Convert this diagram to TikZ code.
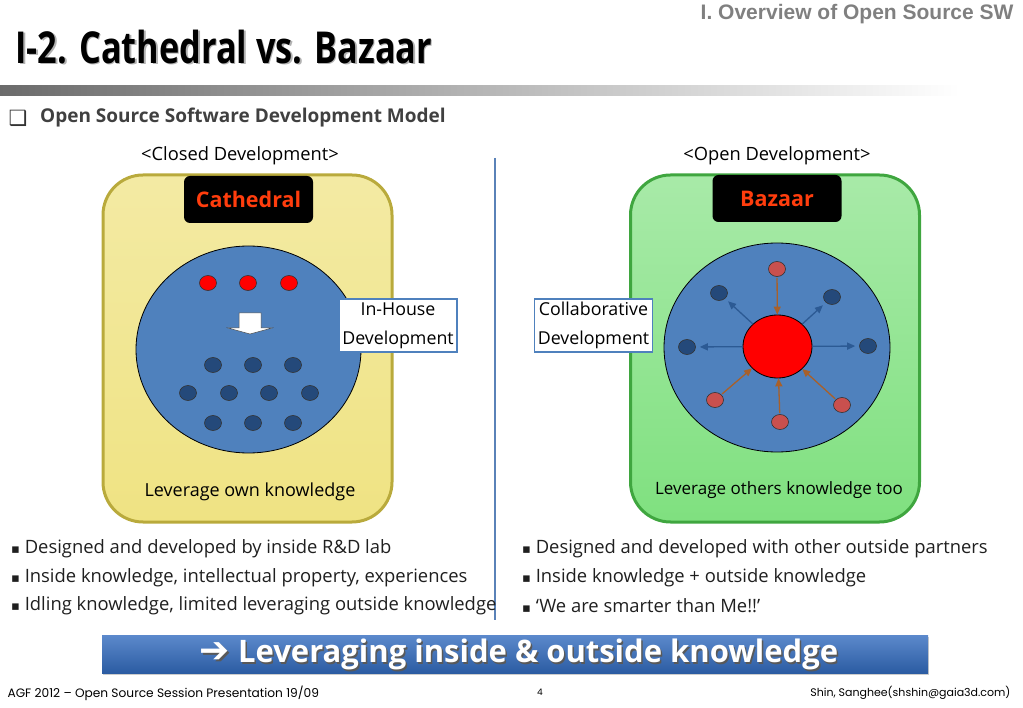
\documentclass[tikz,border=0pt]{standalone}
\usepackage{fontspec}
\setmainfont{Open Sans}
\newfontfamily\titlefont[FakeStretch=0.78]{Open Sans}
\newfontfamily\symfont{DejaVu Sans}
\newfontfamily\partfont{Liberation Sans}
\newfontfamily\footfont{Poppins}
\usetikzlibrary{shapes,arrows.meta,positioning,calc,shadows}

\definecolor{ringblue}{HTML}{4F81BD}
\definecolor{dotnavy}{HTML}{24497A}
\definecolor{dotrose}{HTML}{C9504E}
\definecolor{tagred}{HTML}{FF3D0D}
\definecolor{paneyellow}{HTML}{EDDF72}
\definecolor{paneyellowline}{HTML}{B9AA3C}
\definecolor{panegreen}{HTML}{6EDC6E}
\definecolor{panegreenline}{HTML}{3FA63F}
\definecolor{arrowblue}{HTML}{2C5A94}
\definecolor{arrowbrown}{HTML}{A8602A}
\definecolor{divider}{HTML}{5A82B8}
\definecolor{bannerblue}{HTML}{336CBF}

\begin{document}
\begin{tikzpicture}[
    x=1pt, y=-1pt,
    pane/.style={rounded corners=40, line width=3pt, minimum width=289, minimum height=347},
    tag/.style={fill=black, rounded corners=6, text=tagred, font=\bfseries\fontsize{21.5}{24}\selectfont, minimum width=129, minimum height=47},
    ring/.style={ellipse, draw=black, fill=ringblue, line width=0.8pt, inner sep=0},
    pip/.style={ellipse, draw=black!80, line width=0.6pt, minimum width=17, minimum height=15, inner sep=0},
    note/.style={draw=ringblue, fill=white, line width=1.5pt, align=center, font=\fontsize{17.8}{29}\selectfont, minimum width=118, minimum height=53, inner sep=0},
    item/.style={anchor=west, font=\fontsize{18.4}{20}\selectfont, text=black!88, inner sep=0},
    outflow/.style={-{Triangle[length=8,width=7]}, draw=arrowblue, line width=1.3pt},
    inflow/.style={-{Triangle[length=8,width=7]}, draw=arrowbrown, line width=1.3pt}
]
    \useasboundingbox (0,0) rectangle (1023,708);

    \node[anchor=east, font=\partfont\bfseries\fontsize{21}{24}\selectfont, text=black!50] (part) at (1017,14) {I. Overview of Open Source SW};
    \node[anchor=west, font=\titlefont\bfseries\fontsize{44}{48}\selectfont, text=black!30] at (13.5,48.5) {I-2. Cathedral vs. Bazaar};
    \node[anchor=west, font=\titlefont\bfseries\fontsize{44}{48}\selectfont] (title) at (12,47) {I-2. Cathedral vs. Bazaar};
    \shade[left color=black!58, right color=white] (0,86) rectangle (960,96);

    \node[font=\symfont\fontsize{21}{21}\selectfont, text=black!80, inner sep=0] (box) at (18,118) {❑};
    \node[anchor=west, font=\bfseries\fontsize{19}{22}\selectfont, text=black!75, inner sep=0] (model) at (40,118) {Open Source Software Development Model};

    \node[font=\fontsize{18.3}{20}\selectfont] (closed) at (240,156) {<Closed Development>};
    \node[font=\fontsize{18.3}{20}\selectfont] (open) at (777,156) {<Open Development>};
    \draw[divider, line width=2pt] (495,158) -- (495,620);

    \node[pane, draw=paneyellowline, top color=paneyellow!65!white, middle color=paneyellow, bottom color=paneyellow!88!white] (cathedral) at (247.5,348.5) {};
    \node[tag] (ctag) at (248.5,199.5) {Cathedral};
    \node[ring, minimum width=225, minimum height=207] (cring) at (248.5,349.5) {};
    \foreach \x in {208,248,289}
        \node[pip, fill=red] at (\x,283) {};
    \draw[fill=white, draw=black!70, line width=0.5pt] (239,313) -- (261,313) -- (261,328) -- (272,328) -- (250,334) -- (228,328) -- (239,328) -- cycle;
    \foreach \x in {213,253,293} {
        \node[pip, fill=dotnavy] at (\x,365) {};
        \node[pip, fill=dotnavy] at (\x,423) {};
    }
    \foreach \x in {188,229,269,310}
        \node[pip, fill=dotnavy] at (\x,393) {};
    \node[note] (inhouse) at (398,325.5) {In-House\\Development};
    \node[font=\fontsize{18}{20}\selectfont] (own) at (250,492) {Leverage own knowledge};

    \node[pane, draw=panegreenline, top color=panegreen!60!white, middle color=panegreen, bottom color=panegreen!88!white] (bazaar) at (775,348.5) {};
    \node[tag] (btag) at (777,198.5) {Bazaar};
    \node[ring, minimum width=226, minimum height=209] (bring) at (777,347.5) {};
    \node[ellipse, draw=black, fill=red, line width=0.8pt, minimum width=69, minimum height=63, inner sep=0] (hub) at (777.5,346.5) {};
    \node[pip, fill=dotrose] (n) at (777,269) {};
    \node[pip, fill=dotnavy] (nw) at (719,293) {};
    \node[pip, fill=dotnavy] (ne) at (832,297) {};
    \node[pip, fill=dotnavy] (w) at (687,347) {};
    \node[pip, fill=dotnavy] (e) at (868,346) {};
    \node[pip, fill=dotrose] (sw) at (715,400) {};
    \node[pip, fill=dotrose] (s) at (780,422) {};
    \node[pip, fill=dotrose] (se) at (842,405) {};
    \foreach \t in {nw,ne,w,e}
        \draw[outflow, shorten >=4pt] (hub) -- (\t);
    \foreach \t in {n,sw,s,se}
        \draw[inflow, shorten <=1pt] (\t) -- (hub);
    \node[note] (collab) at (593.5,325.5) {Collaborative\\Development};
    \node[font=\fontsize{17}{20}\selectfont] (others) at (779,490) {Leverage others knowledge too};

    \node[item] (c1) at (11,549) {{\symfont\fontsize{13}{13}\selectfont ▪} Designed and developed by inside R\&D lab};
    \node[item] (c2) at (11,578) {{\symfont\fontsize{13}{13}\selectfont ▪} Inside knowledge, intellectual property, experiences};
    \node[item] (c3) at (11,606) {{\symfont\fontsize{13}{13}\selectfont ▪} Idling knowledge, limited leveraging outside knowledge};
    \node[item] (b1) at (522,549) {{\symfont\fontsize{13}{13}\selectfont ▪} Designed and developed with other outside partners};
    \node[item] (b2) at (522,578) {{\symfont\fontsize{13}{13}\selectfont ▪} Inside knowledge + outside knowledge};
    \node[item] (b3) at (522,606) {{\symfont\fontsize{13}{13}\selectfont ▪} ‘We are smarter than Me!!’};

    \node[top color=bannerblue!80!white, bottom color=bannerblue!85!black, drop shadow={opacity=0.4, shadow xshift=1pt, shadow yshift=-2pt}, minimum width=826, minimum height=38] (lesson) at (515,654) {};
    \node[font=\bfseries\fontsize{31}{34}\selectfont, text=black!65] at (520.5,656) {{\symfont\fontsize{36}{36}\selectfont ➔} Leveraging inside \& outside knowledge};
    \node[font=\bfseries\fontsize{31}{34}\selectfont, text=white] at (519,654.5) {{\symfont\fontsize{36}{36}\selectfont ➔} Leveraging inside \& outside knowledge};

    \node[anchor=west, font=\footfont\fontsize{12.2}{14}\selectfont] (event) at (4,693) {AGF 2012 – Open Source Session Presentation 19/09};
    \node[font=\footfont\fontsize{9}{11}\selectfont] (page) at (540,692) {4};
    \node[anchor=east, font=\footfont\fontsize{11}{13}\selectfont] (author) at (1014,693) {Shin, Sanghee(shshin@gaia3d.com)};
\end{tikzpicture}
\end{document}
